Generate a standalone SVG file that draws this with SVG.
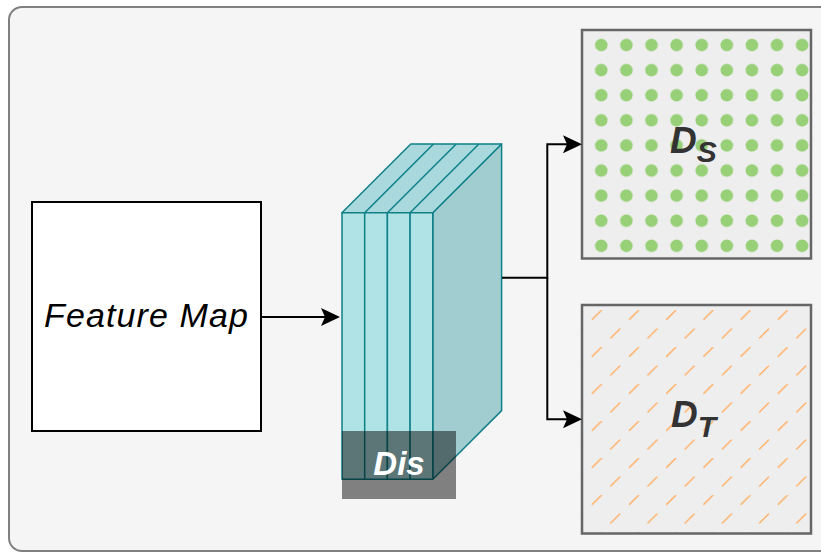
<svg xmlns="http://www.w3.org/2000/svg" width="821" height="553" viewBox="0 0 821 553">
  <style>
    .frame { fill: #f5f5f5; stroke: #808080; stroke-width: 2; }
    .box { fill: #ffffff; stroke: #000000; stroke-width: 2; }
    .panel { stroke: #666666; stroke-width: 2.5; }
    .slice { stroke: #0e8088; stroke-width: 1.5; stroke-linejoin: round; }
    .wire { fill: none; stroke: #000000; stroke-width: 2; }
    .lbl { font-family: "Liberation Sans", Arial, sans-serif; font-style: italic; }
    .sym { font-family: "Liberation Sans", Arial, sans-serif; font-style: italic; font-weight: bold; fill: #333333; }
  </style>
  <defs>
    <marker id="head" markerUnits="userSpaceOnUse" markerWidth="20" markerHeight="20" viewBox="0 0 20 20" refX="4" refY="10" orient="auto">
      <path d="M0,1 L19,10 L0,19 L4,10 Z" fill="#000000"/>
    </marker>
    <pattern id="dots" patternUnits="userSpaceOnUse" x="588.75" y="32.45" width="25.1" height="25.1">
      <rect width="25.1" height="25.1" fill="#eeeeee"/>
      <circle cx="12.55" cy="12.55" r="6.3" fill="#97d077"/>
    </pattern>
    <pattern id="hatch" patternUnits="userSpaceOnUse" x="591.7" y="310" width="37.2" height="37">
      <rect width="37.2" height="37" fill="#eeeeee"/>
      <g stroke="#ffb570" stroke-width="1.6" stroke-linecap="round">
        <line x1="0.5" y1="9.5" x2="9.5" y2="0.5"/>
        <line x1="19.1" y1="28" x2="28.1" y2="19"/>
      </g>
    </pattern>
  </defs>

  <!-- background frame -->
  <rect class="frame" x="9" y="7" width="830" height="544" rx="13" ry="13"/>

  <!-- input feature map -->
  <g id="feature-map">
    <rect class="box" x="32" y="202" width="229" height="229"/>
    <text class="lbl" x="146" y="327" font-size="34" text-anchor="middle" textLength="204" lengthAdjust="spacing" fill="#000000">Feature Map</text>
  </g>

  <!-- discriminator block: four stacked slices -->
  <g id="dis">
    <polygon class="slice" fill="#a1cdd1" points="432.8,212.7 501.6,144 501.6,410.6 432.8,479.3"/>
    <polygon class="slice" fill="#a9d9dc" points="342,212.7 410.8,144 501.6,144 432.8,212.7"/>
    <g class="slice" fill="#b0e3e6">
      <rect x="342" y="212.7" width="22.7" height="266.6"/>
      <rect x="364.7" y="212.7" width="22.7" height="266.6"/>
      <rect x="387.4" y="212.7" width="22.7" height="266.6"/>
      <rect x="410.1" y="212.7" width="22.7" height="266.6"/>
    </g>
    <g class="slice">
      <line x1="364.7" y1="212.7" x2="433.5" y2="144"/>
      <line x1="387.4" y1="212.7" x2="456.2" y2="144"/>
      <line x1="410.1" y1="212.7" x2="478.9" y2="144"/>
    </g>
    <rect x="342" y="431" width="114" height="68" fill="#000000" fill-opacity="0.48"/>
    <text class="lbl" x="399" y="475" font-size="33" font-weight="bold" text-anchor="middle" fill="#ffffff">Dis</text>
  </g>

  <!-- source-domain output -->
  <g id="ds">
    <rect class="panel" x="582" y="30" width="229" height="228.5" fill="url(#dots)"/>
    <text class="sym" x="670" y="153" font-size="37">D<tspan font-size="30" dy="9">S</tspan></text>
  </g>

  <!-- target-domain output -->
  <g id="dt">
    <rect class="panel" x="582" y="305" width="229" height="228.5" fill="url(#hatch)"/>
    <text class="sym" x="671" y="427" font-size="37">D<tspan font-size="30" dy="10">T</tspan></text>
  </g>

  <!-- connectors -->
  <g id="connectors">
    <line class="wire" x1="261" y1="317" x2="325" y2="317" marker-end="url(#head)"/>
    <polyline class="wire" points="502,277.7 547.3,277.7 547.3,144.2 567,144.2" marker-end="url(#head)"/>
    <polyline class="wire" points="547.3,277.7 547.3,419.2 567,419.2" marker-end="url(#head)"/>
  </g>
</svg>
